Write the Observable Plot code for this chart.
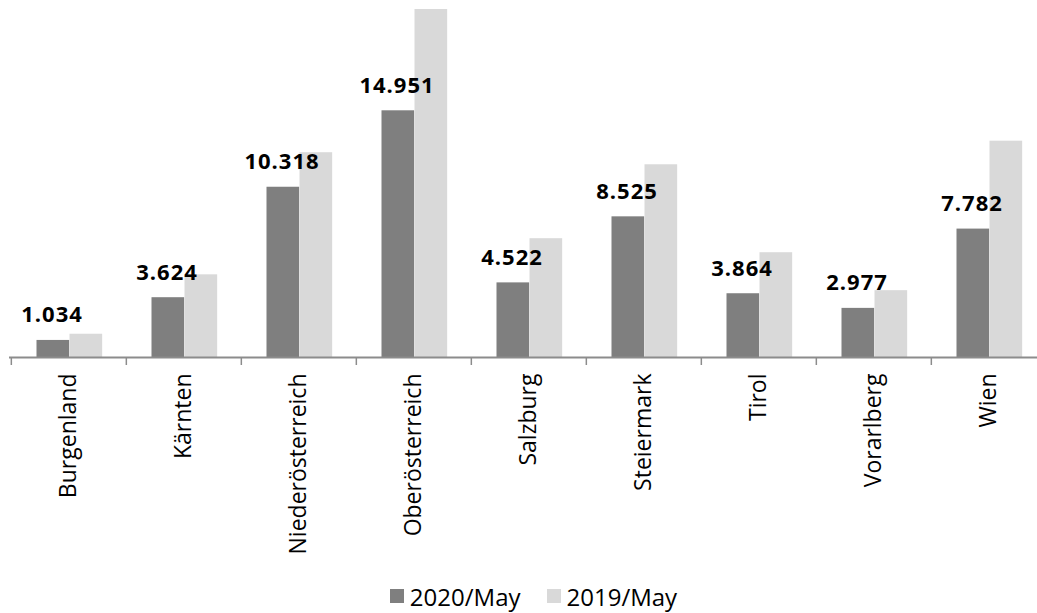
<!DOCTYPE html>
<html>
<head>
<meta charset="utf-8">
<script src="https://cdn.jsdelivr.net/npm/d3@7"></script>
<script src="https://cdn.jsdelivr.net/npm/@observablehq/plot@0.6"></script>
<style>
  html, body { margin: 0; padding: 0; background: #fff; overflow: hidden; }
  body { font-family: "Open Sans", sans-serif; width: 1037px; }
  #legend { display: flex; justify-content: center; align-items: center; height: 38px; padding-left: 30px; font-size: 24px; color: #000; margin-top: 2px; }
  #legend .item { display: flex; align-items: center; margin: 0 13px; }
  #legend .sw { width: 14px; height: 14px; margin-right: 6px; }
</style>
</head>
<body>
<div id="chart"></div>
<div id="legend"></div>
<script>
// Federal states of Austria
const regions = ["Burgenland", "Kärnten", "Niederösterreich", "Oberösterreich", "Salzburg", "Steiermark", "Tirol", "Vorarlberg", "Wien"];
// May 2020 (labelled) and May 2019 counts per state
const may2020 = [1034, 3624, 10318, 14951, 4522, 8525, 3864, 2977, 7782];
const may2019 = [1410, 5010, 12410, 21090, 7200, 11680, 6350, 4050, 13110];
const seriesNames = ["2020/May", "2019/May"];
const seriesColors = ["#7f7f7f", "#d9d9d9"];

const rows2020 = regions.map((region, i) => ({region, value: may2020[i]}));
const rows2019 = regions.map((region, i) => ({region, value: may2019[i]}));

// German number format: 1.034
const fmt = d3.formatLocale({decimal: ",", thousands: ".", grouping: [3], currency: ["", " €"]}).format(",d");

const W = 1037, H = 575, base = 357;
const xLeft = 9, xRight = 1047;
const step = (xRight - xLeft) / regions.length;

const chart = Plot.plot({
  width: W,
  height: H,
  marginTop: 9,
  marginBottom: H - base,
  marginLeft: xLeft,
  marginRight: 0,
  style: {fontFamily: "Open Sans", color: "#000", background: "#fff"},
  x: {domain: regions, range: [xLeft, xRight], padding: 0, label: null},
  y: {domain: [0, 21090], axis: null},
  marks: [
    Plot.barY(rows2020, {x: "region", y: "value", fill: seriesColors[0], insetLeft: 25.5, insetRight: step - 58.5}),
    Plot.barY(rows2019, {x: "region", y: "value", fill: seriesColors[1], insetLeft: 58.5, insetRight: step - 91.5}),
    Plot.ruleY([0], {stroke: "#8c8c8c", strokeWidth: 2}),
    Plot.axisX({tickSize: 8, text: null, dx: -step / 2, stroke: "#8c8c8c", strokeWidth: 1.5, label: null}),
    Plot.axisX({tickSize: 0, tickPadding: 16, tickRotate: -90, fontSize: 23, fill: "#000", label: null}),
    Plot.text(rows2020, {x: "region", y: "value", text: d => fmt(d.value), dx: -17, dy: -18, lineAnchor: "bottom",
      fontWeight: "bold", fontSize: 22, fill: "#000"})
  ]
});
d3.select(chart).selectAll('g[aria-label="text"] text').attr("letter-spacing", "1px");
document.getElementById("chart").appendChild(chart);

// Legend below the chart
const legend = d3.select("#legend");
seriesNames.forEach((name, i) => {
  const item = legend.append("div").attr("class", "item");
  item.append("div").attr("class", "sw").style("background", seriesColors[i]);
  item.append("span").text(name);
});
</script>
</body>
</html>
